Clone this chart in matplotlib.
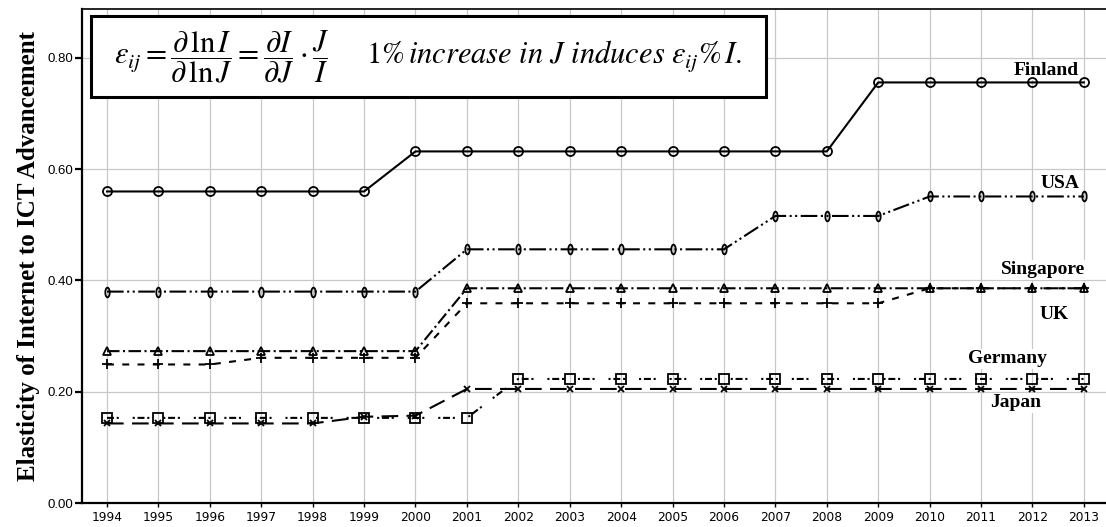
import numpy as np
import matplotlib.pyplot as plt
from matplotlib.patches import Rectangle
from matplotlib.path import Path

plt.rcParams['lines.scale_dashes'] = False
plt.rcParams['mathtext.fontset'] = 'stix'

years = list(range(1994, 2014))
finland = [0.56] * 6 + [0.632] * 9 + [0.756] * 5
usa = [0.38] * 7 + [0.456] * 6 + [0.516] * 3 + [0.551] * 4
singapore = [0.273] * 7 + [0.386] * 13
uk = [0.249] * 3 + [0.261] * 4 + [0.359] * 9 + [0.386] * 4
germany = [0.153] * 8 + [0.223] * 12
japan = [0.143] * 5 + [0.155, 0.157] + [0.205] * 13

y_ticks = [0.0, 0.2, 0.4, 0.6, 0.8]

# narrow ellipse marker for USA
circ = Path.unit_circle()
ellipse = Path(circ.vertices * np.array([0.45, 1.0]), circ.codes)

fig = plt.figure(figsize=(11.06, 5.27), dpi=100)
ax = fig.add_axes([82 / 1106, 24 / 527, 1024 / 1106, 494 / 527])

common = dict(color='black', lw=1.5, mfc='none', mec='black', mew=1.3, zorder=4)
ax.plot(years, finland, marker='o', ms=6.5, ls='-', **common)
ax.plot(years, usa, marker=ellipse, ms=7, ls=(0, (12, 2.5, 1.5, 2.5, 1.5, 2.5)), **common)
ax.plot(years, singapore, marker='^', ms=5.5, ls=(0, (9, 2.5, 1.5, 2.5)), **common)
ax.plot(years, uk, marker='+', ms=7.5, ls=(0, (5, 6)), **common)
ax.plot(years, germany, marker='s', ms=7, ls=(0, (5, 2, 1.5, 10, 1.5, 2)), **common)
ax.plot(years, japan, marker='x', ms=5, ls=(0, (12, 6)), **common)

ax.set_xlim(1993.514, 2013.43)
ax.set_ylim(0, 0.888)
ax.set_xticks(years)
ax.set_xticklabels([str(y) for y in years], fontsize=8.8, family='DejaVu Sans')
ax.set_yticks(y_ticks)
ax.set_yticklabels(['%.2f' % v for v in y_ticks], fontsize=9.5, family='Liberation Sans')
ax.tick_params(axis='y', length=5, width=1.6, direction='out', pad=1)
ax.tick_params(axis='x', length=3, width=1.0, direction='out', pad=3)
ax.grid(True, color='#c8c8c8', lw=0.9, zorder=0)
ax.set_axisbelow(True)

for side in ['left', 'bottom']:
    ax.spines[side].set_linewidth(1.6)
ax.spines['top'].set_linewidth(1.2)
ax.spines['right'].set_visible(False)

ax.set_ylabel('Elasticity of Internet to ICT Advancement', family='Liberation Serif',
              fontweight='bold', fontsize=18, labelpad=6)

lab = dict(family='Liberation Serif', fontweight='bold', fontsize=14, va='center', ha='right',
           zorder=3, bbox=dict(fc='white', ec='none', pad=1))
ax.text(2012.9, 0.778, 'Finland', **lab)
ax.text(2012.92, 0.575, 'USA', **lab)
ax.text(2013.02, 0.419, 'Singapore', **lab)
ax.text(2012.71, 0.338, 'UK', **lab)
ax.text(2012.28, 0.259, 'Germany', **lab)
ax.text(2012.16, 0.180, 'Japan', **lab)

box = Rectangle((9 / 1024, 406 / 494), 675 / 1024, 81 / 494, transform=ax.transAxes,
                fc='white', ec='black', lw=2.2, zorder=5)
ax.add_patch(box)
formula = (r'$\varepsilon_{ij}=\dfrac{\partial\,\ln I}{\partial\,\ln J}=\dfrac{\partial I}{\partial J}'
           r'\cdot\dfrac{J}{I}\quad\ \ 1\%\,increase\ in\ J\ induces\ \varepsilon_{ij}\%\,I.$')
ax.text(346.5 / 1024, 446.5 / 494, formula, transform=ax.transAxes, fontsize=22,
        ha='center', va='center', zorder=6)

fig.savefig('out.png', dpi=100)
